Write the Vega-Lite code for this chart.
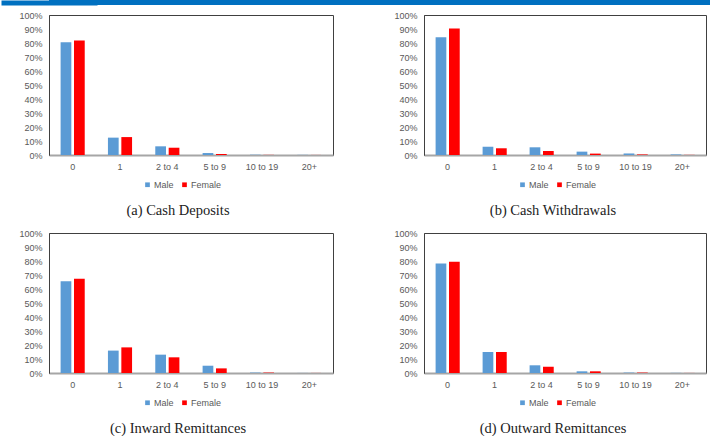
{
  "$schema": "https://vega.github.io/schema/vega-lite/v6.json",
  "padding": 0,
  "background": "white",
  "config": {
    "view": {"stroke": null},
    "font": "Liberation Sans",
    "axis": {"grid": false, "ticks": false, "title": null, "labelFont": "Liberation Sans", "labelFontSize": 9, "labelColor": "#595959"},
    "legend": {"labelFont": "Liberation Sans", "labelFontSize": 9, "labelColor": "#595959", "symbolType": "square", "symbolSize": 22, "symbolStrokeWidth": 0, "labelOffset": 2, "columnPadding": 6, "title": null},
    "title": {"font": "Liberation Serif", "fontSize": 14.5, "fontWeight": "normal", "color": "#222222"}
  },
  "datasets": {
    "d": [
      {"panel": "a", "bin": "0", "sex": "Male", "value": 0.805},
      {"panel": "a", "bin": "0", "sex": "Female", "value": 0.817},
      {"panel": "a", "bin": "1", "sex": "Male", "value": 0.124},
      {"panel": "a", "bin": "1", "sex": "Female", "value": 0.128},
      {"panel": "a", "bin": "2 to 4", "sex": "Male", "value": 0.062},
      {"panel": "a", "bin": "2 to 4", "sex": "Female", "value": 0.052},
      {"panel": "a", "bin": "5 to 9", "sex": "Male", "value": 0.014},
      {"panel": "a", "bin": "5 to 9", "sex": "Female", "value": 0.007},
      {"panel": "a", "bin": "10 to 19", "sex": "Male", "value": 0.002},
      {"panel": "a", "bin": "10 to 19", "sex": "Female", "value": 0.001},
      {"panel": "a", "bin": "20+", "sex": "Male", "value": 0.001},
      {"panel": "a", "bin": "20+", "sex": "Female", "value": 0.0005},
      {"panel": "b", "bin": "0", "sex": "Male", "value": 0.841},
      {"panel": "b", "bin": "0", "sex": "Female", "value": 0.903},
      {"panel": "b", "bin": "1", "sex": "Male", "value": 0.059},
      {"panel": "b", "bin": "1", "sex": "Female", "value": 0.048},
      {"panel": "b", "bin": "2 to 4", "sex": "Male", "value": 0.055},
      {"panel": "b", "bin": "2 to 4", "sex": "Female", "value": 0.029},
      {"panel": "b", "bin": "5 to 9", "sex": "Male", "value": 0.024},
      {"panel": "b", "bin": "5 to 9", "sex": "Female", "value": 0.010},
      {"panel": "b", "bin": "10 to 19", "sex": "Male", "value": 0.011},
      {"panel": "b", "bin": "10 to 19", "sex": "Female", "value": 0.004},
      {"panel": "b", "bin": "20+", "sex": "Male", "value": 0.004},
      {"panel": "b", "bin": "20+", "sex": "Female", "value": 0.001},
      {"panel": "c", "bin": "0", "sex": "Male", "value": 0.655},
      {"panel": "c", "bin": "0", "sex": "Female", "value": 0.674},
      {"panel": "c", "bin": "1", "sex": "Male", "value": 0.160},
      {"panel": "c", "bin": "1", "sex": "Female", "value": 0.183},
      {"panel": "c", "bin": "2 to 4", "sex": "Male", "value": 0.131},
      {"panel": "c", "bin": "2 to 4", "sex": "Female", "value": 0.112},
      {"panel": "c", "bin": "5 to 9", "sex": "Male", "value": 0.052},
      {"panel": "c", "bin": "5 to 9", "sex": "Female", "value": 0.033},
      {"panel": "c", "bin": "10 to 19", "sex": "Male", "value": 0.003},
      {"panel": "c", "bin": "10 to 19", "sex": "Female", "value": 0.003},
      {"panel": "c", "bin": "20+", "sex": "Male", "value": 0.0005},
      {"panel": "c", "bin": "20+", "sex": "Female", "value": 0.0005},
      {"panel": "d", "bin": "0", "sex": "Male", "value": 0.783},
      {"panel": "d", "bin": "0", "sex": "Female", "value": 0.795},
      {"panel": "d", "bin": "1", "sex": "Male", "value": 0.150},
      {"panel": "d", "bin": "1", "sex": "Female", "value": 0.150},
      {"panel": "d", "bin": "2 to 4", "sex": "Male", "value": 0.055},
      {"panel": "d", "bin": "2 to 4", "sex": "Female", "value": 0.045},
      {"panel": "d", "bin": "5 to 9", "sex": "Male", "value": 0.012},
      {"panel": "d", "bin": "5 to 9", "sex": "Female", "value": 0.012},
      {"panel": "d", "bin": "10 to 19", "sex": "Male", "value": 0.003},
      {"panel": "d", "bin": "10 to 19", "sex": "Female", "value": 0.003},
      {"panel": "d", "bin": "20+", "sex": "Male", "value": 0.001},
      {"panel": "d", "bin": "20+", "sex": "Female", "value": 0.0005}
    ],
    "none": []
  },
  "columns": 1,
  "spacing": 5,
  "resolve": {"scale": {"color": "independent"}, "legend": {"color": "independent"}},
  "concat": [
    {
      "data": {"name": "none"},
      "width": 662,
      "height": 5,
      "view": {"fill": "#0070C0", "stroke": null},
      "mark": {"type": "text", "text": ""},
      "encoding": {
        "y": {"datum": 0, "type": "quantitative", "axis": {"labels": false, "ticks": false, "domain": true, "domainColor": "#0070C0", "domainWidth": 96, "domainCap": "butt", "minExtent": 48, "maxExtent": 48}}
      }
    },
    {
      "columns": 2,
      "spacing": {"row": 10, "column": 41},
      "resolve": {"scale": {"color": "independent"}, "legend": {"color": "independent"}},
      "concat": [
        {
          "data": {"name": "d"},
          "transform": [{"filter": "datum.panel == 'a'"}],
          "width": 284,
          "height": 140,
          "view": {"stroke": "#404040", "strokeWidth": 1},
          "title": {"text": "(a) Cash Deposits", "orient": "bottom", "anchor": "middle", "frame": "group", "dx": -13, "offset": 14},
          "mark": {"type": "bar"},
          "encoding": {
            "x": {"field": "bin", "type": "nominal", "sort": ["0", "1", "2 to 4", "5 to 9", "10 to 19", "20+"], "scale": {"paddingInner": 0, "paddingOuter": 0}, "axis": {"orient": "bottom", "labelAngle": 0, "domainColor": "#A6A6A6", "domainWidth": 2, "labelPadding": 7}},
            "xOffset": {"field": "sex", "type": "nominal", "sort": ["Male", "Female"], "scale": {"paddingInner": 0.2, "paddingOuter": 0.866}},
            "y": {"field": "value", "type": "quantitative", "scale": {"domain": [0, 1]}, "axis": {"orient": "left", "values": [0, 0.1, 0.2, 0.3, 0.4, 0.5, 0.6, 0.7, 0.8, 0.9, 1], "format": ".0%", "domainColor": "#404040", "domainWidth": 1, "labelPadding": 7, "minExtent": 48, "maxExtent": 48}},
            "color": {"field": "sex", "type": "nominal", "sort": ["Male", "Female"], "scale": {"domain": ["Male", "Female"], "range": ["#5B9BD5", "#FF0000"]}, "legend": {"orient": "none", "direction": "horizontal", "legendX": 94, "legendY": 165}}
          }
        },
        {
          "data": {"name": "d"},
          "transform": [{"filter": "datum.panel == 'b'"}],
          "width": 282,
          "height": 140,
          "view": {"stroke": "#404040", "strokeWidth": 1},
          "title": {"text": "(b) Cash Withdrawals", "orient": "bottom", "anchor": "middle", "frame": "group", "dx": -12, "offset": 14},
          "mark": {"type": "bar"},
          "encoding": {
            "x": {"field": "bin", "type": "nominal", "sort": ["0", "1", "2 to 4", "5 to 9", "10 to 19", "20+"], "scale": {"paddingInner": 0, "paddingOuter": 0}, "axis": {"orient": "bottom", "labelAngle": 0, "domainColor": "#A6A6A6", "domainWidth": 2, "labelPadding": 7}},
            "xOffset": {"field": "sex", "type": "nominal", "sort": ["Male", "Female"], "scale": {"paddingInner": 0.2, "paddingOuter": 0.866}},
            "y": {"field": "value", "type": "quantitative", "scale": {"domain": [0, 1]}, "axis": {"orient": "left", "values": [0, 0.1, 0.2, 0.3, 0.4, 0.5, 0.6, 0.7, 0.8, 0.9, 1], "format": ".0%", "domainColor": "#404040", "domainWidth": 1, "labelPadding": 7, "minExtent": 48, "maxExtent": 48}},
            "color": {"field": "sex", "type": "nominal", "sort": ["Male", "Female"], "scale": {"domain": ["Male", "Female"], "range": ["#5B9BD5", "#FF0000"]}, "legend": {"orient": "none", "direction": "horizontal", "legendX": 94, "legendY": 165}}
          }
        },
        {
          "data": {"name": "d"},
          "transform": [{"filter": "datum.panel == 'c'"}],
          "width": 284,
          "height": 140,
          "view": {"stroke": "#404040", "strokeWidth": 1},
          "title": {"text": "(c) Inward Remittances", "orient": "bottom", "anchor": "middle", "frame": "group", "dx": -13, "offset": 14},
          "mark": {"type": "bar"},
          "encoding": {
            "x": {"field": "bin", "type": "nominal", "sort": ["0", "1", "2 to 4", "5 to 9", "10 to 19", "20+"], "scale": {"paddingInner": 0, "paddingOuter": 0}, "axis": {"orient": "bottom", "labelAngle": 0, "domainColor": "#A6A6A6", "domainWidth": 2, "labelPadding": 7}},
            "xOffset": {"field": "sex", "type": "nominal", "sort": ["Male", "Female"], "scale": {"paddingInner": 0.2, "paddingOuter": 0.866}},
            "y": {"field": "value", "type": "quantitative", "scale": {"domain": [0, 1]}, "axis": {"orient": "left", "values": [0, 0.1, 0.2, 0.3, 0.4, 0.5, 0.6, 0.7, 0.8, 0.9, 1], "format": ".0%", "domainColor": "#404040", "domainWidth": 1, "labelPadding": 7, "minExtent": 48, "maxExtent": 48}},
            "color": {"field": "sex", "type": "nominal", "sort": ["Male", "Female"], "scale": {"domain": ["Male", "Female"], "range": ["#5B9BD5", "#FF0000"]}, "legend": {"orient": "none", "direction": "horizontal", "legendX": 94, "legendY": 165}}
          }
        },
        {
          "data": {"name": "d"},
          "transform": [{"filter": "datum.panel == 'd'"}],
          "width": 282,
          "height": 140,
          "view": {"stroke": "#404040", "strokeWidth": 1},
          "title": {"text": "(d) Outward Remittances", "orient": "bottom", "anchor": "middle", "frame": "group", "dx": -12, "offset": 14},
          "mark": {"type": "bar"},
          "encoding": {
            "x": {"field": "bin", "type": "nominal", "sort": ["0", "1", "2 to 4", "5 to 9", "10 to 19", "20+"], "scale": {"paddingInner": 0, "paddingOuter": 0}, "axis": {"orient": "bottom", "labelAngle": 0, "domainColor": "#A6A6A6", "domainWidth": 2, "labelPadding": 7}},
            "xOffset": {"field": "sex", "type": "nominal", "sort": ["Male", "Female"], "scale": {"paddingInner": 0.2, "paddingOuter": 0.866}},
            "y": {"field": "value", "type": "quantitative", "scale": {"domain": [0, 1]}, "axis": {"orient": "left", "values": [0, 0.1, 0.2, 0.3, 0.4, 0.5, 0.6, 0.7, 0.8, 0.9, 1], "format": ".0%", "domainColor": "#404040", "domainWidth": 1, "labelPadding": 7, "minExtent": 48, "maxExtent": 48}},
            "color": {"field": "sex", "type": "nominal", "sort": ["Male", "Female"], "scale": {"domain": ["Male", "Female"], "range": ["#5B9BD5", "#FF0000"]}, "legend": {"orient": "none", "direction": "horizontal", "legendX": 94, "legendY": 165}}
          }
        }
      ]
    }
  ]
}
